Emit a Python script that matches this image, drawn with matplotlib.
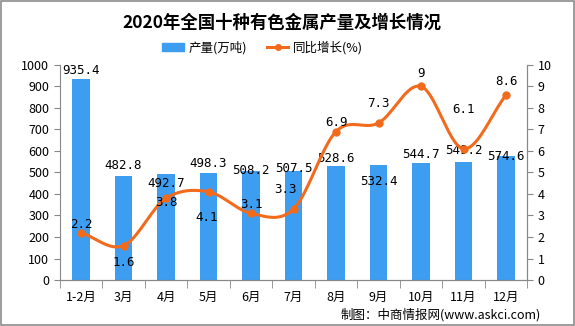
import numpy as np
import matplotlib
matplotlib.use("Agg")
import matplotlib.pyplot as plt
from matplotlib.lines import Line2D
from matplotlib.patches import Patch, Rectangle

plt.rcParams['font.family'] = ['Noto Sans CJK SC', 'DejaVu Sans']

months = ["1-2月", "3月", "4月", "5月", "6月", "7月", "8月", "9月", "10月", "11月", "12月"]
output = [935.4, 482.8, 492.7, 498.3, 508.2, 507.5, 528.6, 532.4, 544.7, 549.2, 574.6]
growth = [2.2, 1.6, 3.8, 4.1, 3.1, 3.3, 6.9, 7.3, 9.0, 6.1, 8.6]
growth_text = ["2.2", "1.6", "3.8", "4.1", "3.1", "3.3", "6.9", "7.3", "9", "6.1", "8.6"]
# label centre offsets in pixels (as placed in the original)
bar_dy = [8, 11, -9, 9, 0, 2, 8, -16, 8, 11, 0]
line_dy = [8, -17, -4, -26, 9, 20, 9, 19, 13, 39, 13]
line_dx = [0, 0, 0, -2, 0, -8, 0, 0, 0, 0, 0]

BLUE = "#3d9df0"
ORANGE = "#f26b1d"
GREY = "#888888"
PX = 0.72  # points per pixel at dpi 100

fig = plt.figure(figsize=(5.75, 3.26), dpi=100)
fig.patches.append(Rectangle((0.002, 0.003), 0.996, 0.994, transform=fig.transFigure,
                             fill=False, edgecolor="#8c8c8c", lw=1.2))
ax = fig.add_axes([0.104, 0.141, 0.813, 0.66])
ax2 = ax.twinx()

x = np.arange(len(months))
ax.bar(x, output, width=0.42, color=BLUE, zorder=2)
ax.set_xlim(-0.5, len(months) - 0.5)
ax.set_ylim(0, 1000)
ax.set_yticks(range(0, 1001, 100))
ax2.set_ylim(0, 10)
ax2.set_yticks(range(0, 11))

# smooth curve through growth points (Catmull-Rom)
def catmull(xs, ys, n=20):
    px = np.concatenate([[2 * xs[0] - xs[1]], xs, [2 * xs[-1] - xs[-2]]])
    py = np.concatenate([[2 * ys[0] - ys[1]], ys, [2 * ys[-1] - ys[-2]]])
    outx, outy = [], []
    for i in range(1, len(px) - 2):
        t = np.linspace(0, 1, n, endpoint=False)
        for p, o in ((px, outx), (py, outy)):
            p0, p1, p2, p3 = p[i - 1], p[i], p[i + 1], p[i + 2]
            o.extend(0.5 * (2 * p1 + (-p0 + p2) * t + (2 * p0 - 5 * p1 + 4 * p2 - p3) * t ** 2
                            + (-p0 + 3 * p1 - 3 * p2 + p3) * t ** 3))
    outx.append(xs[-1]); outy.append(ys[-1])
    return np.array(outx), np.array(outy)

sx, sy = catmull(x.astype(float), np.array(growth))
ax2.plot(sx, sy, color=ORANGE, lw=2.2, zorder=3)
ax2.plot(x, growth, "o", color=ORANGE, ms=5, zorder=4)

for i in range(len(months)):
    ax.annotate(f"{output[i]:.1f}", (x[i], output[i]), xytext=(0, bar_dy[i] * PX),
                textcoords="offset points", ha="center", va="center", fontsize=9,
                family="DejaVu Sans Mono", zorder=5)
    ax2.annotate(growth_text[i], (x[i], growth[i]), xytext=(line_dx[i] * PX, line_dy[i] * PX),
                 textcoords="offset points", ha="center", va="center", fontsize=9,
                 family="DejaVu Sans Mono", zorder=5)

for a in (ax, ax2):
    a.spines["top"].set_visible(False)
    for s in ("left", "right", "bottom"):
        a.spines[s].set_color(GREY)
    a.tick_params(colors="black", labelsize=9, length=4, color=GREY)
ax2.spines["left"].set_visible(False)
ax.set_xticks(x)
ax.set_xticklabels(months, fontsize=9)
ax.tick_params(axis="x", length=0, pad=8)
ax.set_xticks(np.arange(-0.5, len(months), 1), minor=True)
ax.tick_params(axis="x", which="minor", length=6, color=GREY)

fig.text(0.49, 0.93, "2020年全国十种有色金属产量及增长情况", ha="center", va="center",
         fontsize=12.5, fontweight="bold")
handles = [Patch(color=BLUE, label="产量(万吨)"),
           Line2D([], [], color=ORANGE, lw=2.2, marker="o", ms=4, label="同比增长(%)")]
fig.legend(handles=handles, loc="center", bbox_to_anchor=(0.457, 0.855), ncol=2, frameon=False,
           fontsize=9, handlelength=1.7, handleheight=0.6, handletextpad=0.4, columnspacing=1.6)
fig.text(0.941, 0.033, "制图：中商情报网(www.askci.com)", ha="right", va="center", fontsize=9)

fig.savefig("out.png", dpi=100)
